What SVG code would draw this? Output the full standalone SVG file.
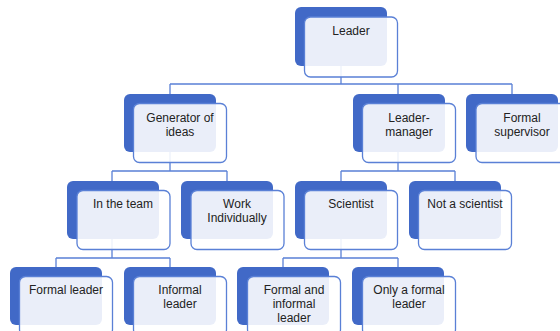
<svg xmlns="http://www.w3.org/2000/svg" width="560" height="331" viewBox="0 0 560 331">
<defs>
<style>
.bk{fill:#4169c7;}
.fr{fill:#ffffff;fill-opacity:0.89;stroke:#5a80d6;stroke-width:1.3;}
.ln{fill:none;stroke:#5a80d6;stroke-width:1.3;}
text{font-family:"Liberation Sans","Noto Sans",Arial,sans-serif;font-size:12px;fill:#222222;text-anchor:middle;}
</style>
</defs>
<rect width="560" height="331" fill="#ffffff"/>
<g id="connectors">
<path class="ln" d="M341,66V84M170,84H512M170,84V94M398,84V94M512,84V94"/>
<path class="ln" d="M170,152V171M112,171H227M112,171V181M227,171V181"/>
<path class="ln" d="M398,152V171M341,171H455M341,171V181M455,171V181"/>
<path class="ln" d="M112,239V258M56,258H170M56,258V267M170,258V267"/>
<path class="ln" d="M341,239V258M283,258H398M283,258V267M398,258V267"/>
</g>
<g id="leader">
<rect class="bk" x="295" y="7" width="92" height="59" rx="6"/>
<rect class="fr" x="304.5" y="17" width="93" height="60" rx="6"/>
<text x="351" y="35">Leader</text>
</g>
<g id="generator-of-ideas">
<rect class="bk" x="124" y="94" width="92" height="58" rx="6"/>
<rect class="fr" x="133.5" y="103.5" width="93" height="59" rx="6"/>
<text x="180" y="122">Generator of</text>
<text x="180" y="136">ideas</text>
</g>
<g id="leader-manager">
<rect class="bk" x="353" y="94" width="92" height="58" rx="6"/>
<rect class="fr" x="362.5" y="103.5" width="93" height="59" rx="6"/>
<text x="409" y="122">Leader-</text>
<text x="409" y="136">manager</text>
</g>
<g id="formal-supervisor">
<rect class="bk" x="466" y="94" width="92" height="58" rx="6"/>
<rect class="fr" x="476" y="103.5" width="93" height="59" rx="6"/>
<text x="522" y="122">Formal</text>
<text x="522" y="136">supervisor</text>
</g>
<g id="in-the-team">
<rect class="bk" x="67" y="181" width="92" height="58" rx="6"/>
<rect class="fr" x="77" y="190.5" width="93" height="59" rx="6"/>
<text x="123" y="208">In the team</text>
</g>
<g id="work-individually">
<rect class="bk" x="181" y="181" width="92" height="58" rx="6"/>
<rect class="fr" x="191" y="190.5" width="93" height="59" rx="6"/>
<text x="237" y="208">Work</text>
<text x="237" y="222">Individually</text>
</g>
<g id="scientist">
<rect class="bk" x="295" y="181" width="92" height="58" rx="6"/>
<rect class="fr" x="304.5" y="190.5" width="93" height="59" rx="6"/>
<text x="351" y="208">Scientist</text>
</g>
<g id="not-a-scientist">
<rect class="bk" x="409" y="181" width="92" height="58" rx="6"/>
<rect class="fr" x="418.5" y="190.5" width="93" height="59" rx="6"/>
<text x="465" y="208">Not a scientist</text>
</g>
<g id="formal-leader">
<rect class="bk" x="10" y="267" width="92" height="58" rx="6"/>
<rect class="fr" x="19.5" y="276.5" width="93" height="59" rx="6"/>
<text x="66" y="294">Formal leader</text>
</g>
<g id="informal-leader">
<rect class="bk" x="124" y="267" width="92" height="58" rx="6"/>
<rect class="fr" x="133.5" y="276.5" width="93" height="59" rx="6"/>
<text x="180" y="294">Informal</text>
<text x="180" y="308">leader</text>
</g>
<g id="formal-and-informal-leader">
<rect class="bk" x="237" y="267" width="92" height="58" rx="6"/>
<rect class="fr" x="247.5" y="276.5" width="93" height="59" rx="6"/>
<text x="294" y="294">Formal and</text>
<text x="294" y="308">informal</text>
<text x="294" y="322">leader</text>
</g>
<g id="only-a-formal-leader">
<rect class="bk" x="352" y="267" width="92" height="58" rx="6"/>
<rect class="fr" x="362.5" y="276.5" width="93" height="59" rx="6"/>
<text x="409" y="294">Only a formal</text>
<text x="409" y="308">leader</text>
</g>
</svg>
